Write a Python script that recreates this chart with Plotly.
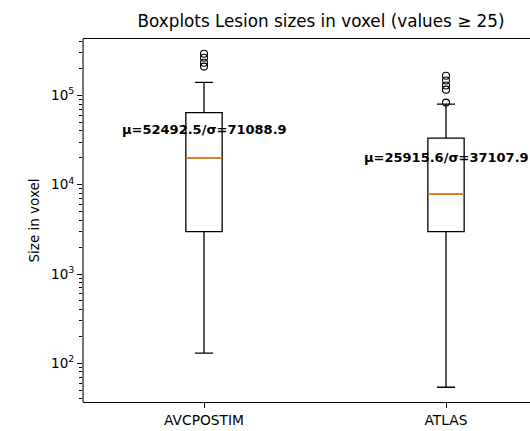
import math
import plotly.graph_objects as go

# ---- data ----
categories = ["AVCPOSTIM", "ATLAS"]
positions = [1, 2]
q1 = [2980, 2980]
medians = [20000, 7900]
q3 = [64000, 33300]
lower_whisker = [130, 54]
upper_whisker = [140000, 80000]
outliers = [
    [293000, 264000, 232000, 210000],
    [166000, 147000, 129000, 116000, 83000],
]
means = [52492.5, 25915.6]
stds = [71088.9, 37107.9]
ytick_vals = [1e2, 1e3, 1e4, 1e5]
ytick_text = ["10<sup>2</sup>", "10<sup>3</sup>", "10<sup>4</sup>", "10<sup>5</sup>"]

BOX_W = 0.15
LW = 1.3
FONT = "DejaVu Sans"
FIG_W = 560  # wider than the window: the right part is cut off like the reference

fig = go.Figure()

for i, cat in enumerate(categories):
    p = positions[i]
    fig.add_trace(go.Box(
        x=[p], q1=[q1[i]], median=[medians[i]], q3=[q3[i]],
        lowerfence=[lower_whisker[i]], upperfence=[upper_whisker[i]],
        width=BOX_W, whiskerwidth=0.5, boxpoints=False,
        line=dict(color="black", width=LW), fillcolor="rgba(0,0,0,0)",
        showlegend=False, hoverinfo="skip",
    ))
    fig.add_trace(go.Scatter(
        x=[p - BOX_W / 2, p + BOX_W / 2], y=[medians[i], medians[i]],
        mode="lines", line=dict(color="#ff7f0e", width=1.7),
        showlegend=False, hoverinfo="skip",
    ))
    fig.add_trace(go.Scatter(
        x=[p] * len(outliers[i]), y=outliers[i], mode="markers",
        marker=dict(symbol="circle-open", size=7, color="black",
                    line=dict(width=1.1, color="black")),
        showlegend=False, hoverinfo="skip",
    ))
    fig.add_annotation(
        x=p, y=math.log10(means[i]), xref="x", yref="y",
        text=f"<b>μ={means[i]}/σ={stds[i]}</b>", showarrow=False,
        yanchor="top", xanchor="center",
        font=dict(family=FONT, size=13, color="black"),
    )

minor_vals = [m * 10 ** e for e in range(1, 6) for m in range(2, 10)]

# left spine as a shape
fig.add_shape(type="line", xref="paper", yref="paper", x0=0, x1=0, y0=0, y1=1,
              line=dict(color="black", width=1.1), layer="above")

fig.update_layout(
    width=FIG_W, height=431,
    margin=dict(l=83, r=0, t=39, b=29),
    paper_bgcolor="white", plot_bgcolor="white",
    font=dict(family=FONT, size=13.5, color="black"),
    hovermode=False,
    title=dict(text="Boxplots Lesion sizes in voxel (values ≥ 25)",
               x=321 / FIG_W, xref="container", xanchor="center",
               y=1 - 21 / 431, yref="container", yanchor="middle",
               font=dict(family=FONT, size=16.8, color="black")),
    xaxis=dict(range=[0.5, 0.5 + (FIG_W - 83) / 242], tickvals=positions,
               ticktext=categories,
               showgrid=False, zeroline=False, showline=True, mirror=True,
               linecolor="black", linewidth=1.1, ticks="outside", ticklen=5,
               tickcolor="black", tickfont=dict(size=13.8)),
    yaxis=dict(type="log", range=[math.log10(36.9), math.log10(428000)],
               tickvals=ytick_vals, ticktext=ytick_text,
               showgrid=False, zeroline=False, showline=False,
               ticks="outside", ticklen=5,
               tickcolor="black", tickfont=dict(size=13.5),
               title=dict(text="Size in voxel", font=dict(size=13.5), standoff=8),
               minor=dict(tickvals=minor_vals, ticks="outside", ticklen=3,
                          tickcolor="black", showgrid=False)),
)

fig.write_html("out.html", config={"displayModeBar": False, "staticPlot": True},
               post_script="document.body.style.margin='0';document.body.style.overflow='hidden';")
